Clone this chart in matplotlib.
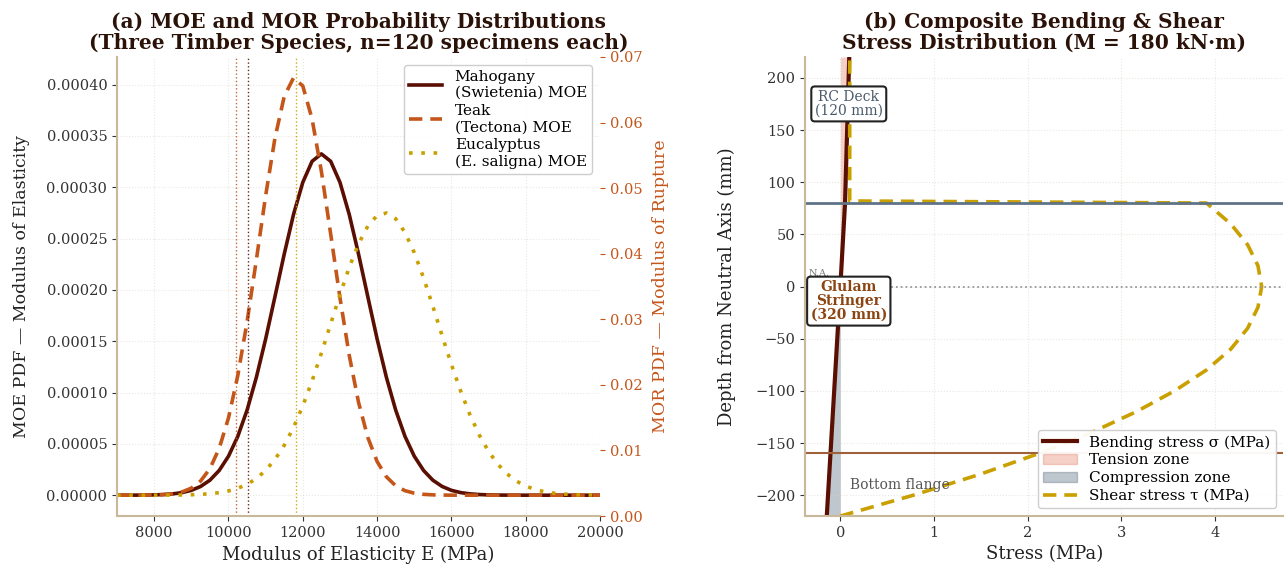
import matplotlib.pyplot as plt
from matplotlib.patches import Patch
from matplotlib.lines import Line2D

plt.rcParams['font.family'] = ['DejaVu Serif', 'DejaVu Sans']

# ---- panel (a) data: MOE pdf (units of 1e-6 per MPa)
moe_x = list(range(7000, 20001, 250))
mahogany_pdf = [0.0, 0.02, 0.06, 0.13, 0.29, 0.63, 1.28, 2.52, 4.73, 8.5,
                14.6, 24.1, 38.0, 57.3, 82.9, 114.8, 152.2, 193.3, 234.9, 273.5,
                304.8, 325.3, 332.5, 325.3, 304.8, 273.5, 234.9, 193.3, 152.2, 114.8,
                82.9, 57.3, 38.0, 24.1, 14.6, 8.5, 4.73, 2.52, 1.28, 0.63,
                0.29, 0.13, 0.06, 0.02, 0.01, 0.0, 0.0, 0.0, 0.0, 0.0,
                0.0, 0.0, 0.0]
teak_pdf = [0.0, 0.0, 0.03, 0.08, 0.22, 0.57, 1.40, 3.21, 6.87, 13.8,
            25.9, 45.6, 75.3, 116.5, 168.9, 229.3, 291.8, 347.8, 388.5, 406.6,
            398.7, 366.4, 315.5, 254.5, 192.4, 136.2, 90.4, 56.2, 32.8, 17.9,
            9.15, 4.38, 1.97, 0.83, 0.33, 0.12, 0.04, 0.0, 0.0, 0.0,
            0.0, 0.0, 0.0, 0.0, 0.0, 0.0, 0.0, 0.0, 0.0, 0.0,
            0.0, 0.0, 0.0]
eucalyptus_pdf = [0.0, 0.0, 0.01, 0.01, 0.03, 0.06, 0.12, 0.24, 0.44, 0.81,
                  1.44, 2.48, 4.14, 6.73, 10.6, 16.2, 24.1, 34.8, 48.6, 66.0,
                  87.0, 111.4, 138.4, 166.9, 195.3, 222.0, 244.8, 262.2, 272.5, 274.9,
                  269.3, 256.0, 236.3, 211.7, 184.1, 155.3, 127.3, 101.3, 78.2, 58.6,
                  42.6, 30.1, 20.7, 13.7, 8.87, 5.56, 3.39, 2.0, 1.15, 0.64,
                  0.34, 0.18, 0.09]
char_values = [10530, 10190, 11820]  # 5th percentile markers: mahogany, teak, eucalyptus
species_labels = ['Mahogany\n(Swietenia) MOE', 'Teak\n(Tectona) MOE',
                  'Eucalyptus\n(E. saligna) MOE']

# ---- panel (b) data
bend_depth = [-220, 0, 80, 80, 220]
bend_stress = [-0.145, 0.0, 0.05, 0.05, 0.095]
shear_depth = [-220, -200, -180, -160, -140, -120, -100, -80, -60, -40, -20,
               0, 20, 40, 60, 80, 82, 120, 160, 200, 220]
shear_stress = [0.0, 0.78, 1.49, 2.12, 2.68, 3.16, 3.57, 3.91, 4.17, 4.35, 4.46,
                4.5, 4.46, 4.35, 4.17, 3.91, 0.10, 0.10, 0.10, 0.10, 0.10]
deck_line = 80
flange_line = -160

dark = '#5a0f02'
orange = '#c4561a'
gold = '#c9a000'
spine_c = '#c9b99b'
title_c = '#2b1208'

fig = plt.figure(figsize=(12.86, 5.64), dpi=100)
ax1 = fig.add_axes([0.091, 0.085, 0.3756, 0.814])
ax2 = fig.add_axes([0.626, 0.085, 0.372, 0.814])

pdfs = [mahogany_pdf, teak_pdf, eucalyptus_pdf]
colors = [dark, orange, gold]
dash_styles = [(None, None), (3.7, 2.2), (1, 2.4)]
for pdf, c, ds, lab in zip(pdfs, colors, dash_styles, species_labels):
    ln, = ax1.plot(moe_x, [v * 1e-6 for v in pdf], color=c, lw=2.6, label=lab)
    if ds[0] is not None:
        ln.set_dashes(ds)
for cv, c in zip(char_values, colors):
    ax1.axvline(cv, color=c, ls=':', lw=1.0, alpha=0.9)

ax1.set_xlim(7000, 20000)
ax1.set_xticks(range(8000, 20001, 2000))
ax1.set_yticks([i * 0.00005 for i in range(9)])
ax1.set_yticklabels([f'{i * 0.00005:.5f}' for i in range(9)])
ax1.grid(True, ls=':', lw=0.8, color='#d8d0c4', alpha=0.5)
ax1.set_xlabel('Modulus of Elasticity E (MPa)', fontsize=13, color='#222')
ax1.set_ylabel('MOE PDF — Modulus of Elasticity', fontsize=12.5, color='#222', labelpad=12)
ax1.set_title('(a) MOE and MOR Probability Distributions\n(Three Timber Species, n=120 specimens each)',
              fontsize=14.5, fontweight='bold', color=title_c, linespacing=1.05)
ax1.legend(loc='upper right', fontsize=11, framealpha=0.95, edgecolor='#cccccc',
           handlelength=2.2, labelspacing=0.25, borderpad=0.35)

ax1b = ax1.twinx()
ax1b.set_ylim(0, 0.07)
ax1b.set_yticks([i * 0.01 for i in range(8)])
ax1b.set_yticklabels([f'{i * 0.01:.2f}' for i in range(8)])
ax1b.tick_params(axis='y', colors=orange, labelsize=10.5)
ax1b.set_ylabel('MOR PDF — Modulus of Rupture', color=orange, fontsize=12.5, labelpad=7)
for s in ax1b.spines.values():
    s.set_visible(False)

# ---- panel (b)
ax2.fill_betweenx(bend_depth, 0, bend_stress, where=[s >= 0 for s in bend_stress],
                  interpolate=True, color='#e07a5f', alpha=0.35, lw=0)
ax2.fill_betweenx(bend_depth, 0, bend_stress, where=[s <= 0 for s in bend_stress],
                  interpolate=True, color='#5f7386', alpha=0.4, lw=0)
ax2.plot(bend_stress, bend_depth, color=dark, lw=3)
shear_ln, = ax2.plot(shear_stress, shear_depth, color=gold, lw=2.6)
shear_ln.set_dashes((3.7, 2.2))
ax2.axhline(deck_line, color='#5f7386', lw=2)
ax2.axhline(flange_line, color='#a0603a', lw=1.5)
ax2.axhline(0, color='#999999', ls=':', lw=1.3)

ax2.set_ylim(-220, 220)
ax2.set_yticks(range(-200, 201, 50))
ax2.set_xticks(range(0, 5))
ax2.grid(True, ls=':', lw=0.8, color='#d8d0c4', alpha=0.5)
ax2.set_xlabel('Stress (MPa)', fontsize=13, color='#222')
ax2.set_ylabel('Depth from Neutral Axis (mm)', fontsize=13, color='#222', labelpad=14)
ax2.set_title('(b) Composite Bending & Shear\nStress Distribution (M = 180 kN·m)',
              fontsize=14.5, fontweight='bold', color=title_c, linespacing=1.05)

ax2.text(0.008, 8, 'N.A.', transform=ax2.get_yaxis_transform(), fontsize=7,
         color='#777777', ha='left', va='bottom')
ax2.text(0.09, 175, 'RC Deck\n(120 mm)', fontsize=10, color='#4a5a6a', ha='center',
         va='center', linespacing=1.0, zorder=5,
         bbox=dict(boxstyle='round,pad=0.25', fc='white', ec='#222222', lw=1.5))
ax2.text(0.09, -14, 'Glulam\nStringer\n(320 mm)', fontsize=10, color='#8b4513',
         fontweight='bold', ha='center', va='center', linespacing=1.0, zorder=5,
         bbox=dict(boxstyle='round,pad=0.25', fc='white', ec='#222222', lw=1.5))
ax2.text(0.1, -190, 'Bottom flange', fontsize=10, color='#555555', ha='left', va='center')

handles = [Line2D([], [], color=dark, lw=3),
           Patch(fc='#e07a5f', alpha=0.35, ec='#e07a5f'),
           Patch(fc='#5f7386', alpha=0.4, ec='#5f7386'),
           Line2D([], [], color=gold, lw=2.6, dashes=(3.7, 2.2))]
labels = ['Bending stress σ (MPa)', 'Tension zone', 'Compression zone', 'Shear stress τ (MPa)']
ax2.legend(handles, labels, loc='lower right', fontsize=11, framealpha=0.95,
           edgecolor='#cccccc', handlelength=2.2, labelspacing=0.25, borderpad=0.35)

for ax in (ax1, ax2):
    for side in ('top', 'right'):
        ax.spines[side].set_visible(False)
    for side in ('left', 'bottom'):
        ax.spines[side].set_color(spine_c)
        ax.spines[side].set_linewidth(1.5)
    ax.tick_params(labelsize=10.5, colors='#333333')

fig.savefig('out.png', dpi=100)
